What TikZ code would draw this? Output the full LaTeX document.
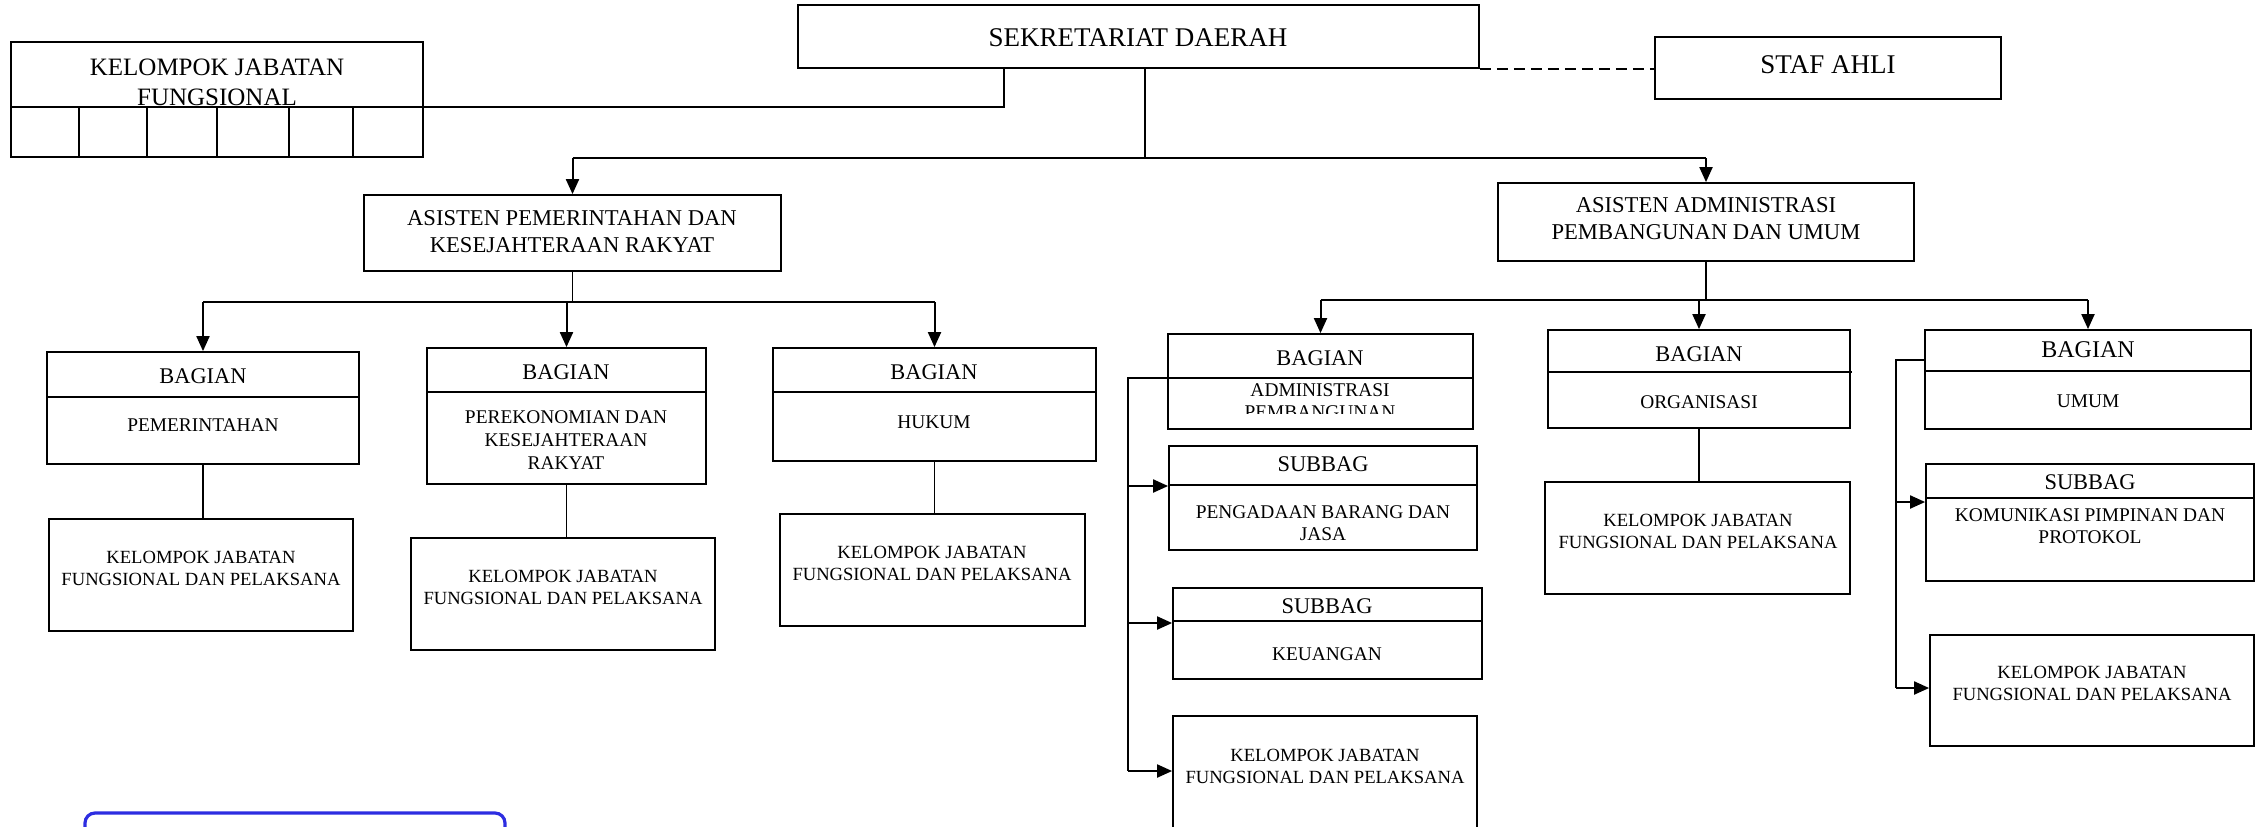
\documentclass[tikz,border=0pt]{standalone}
\usepackage{fontspec}
\setmainfont{Liberation Serif}
\usetikzlibrary{arrows.meta,fit}
\definecolor{stampblue}{RGB}{45,45,225}

% a framed box spanning two corner points (pixel grid, y downwards)
\newcommand\orgbox[5]{\node[box, fit={(#2,#3) (#4,#5)}] (#1) {};}
% horizontal divider across a box at height #2
\newcommand\divline[2]{\draw[box] (#1.west |- 0,#2) -- (#1.east |- 0,#2);}

\begin{document}
\begin{tikzpicture}[x=0.5pt,y=-0.5pt,
  box/.style={draw, line width=0.9pt, inner sep=0pt},
  lbl/.style={inner sep=0pt, align=center},
  fA/.style={font=\fontsize{13.5}{16}\selectfont},
  fB/.style={font=\fontsize{12.5}{15}\selectfont},
  fC/.style={font=\fontsize{11.3}{13.5}\selectfont},
  fD/.style={font=\fontsize{11.2}{13}\selectfont},
  fE/.style={font=\fontsize{9.7}{11.3}\selectfont},
  fF/.style={font=\fontsize{9.3}{11}\selectfont},
  bus/.style={line width=1pt},
  stem/.style={line width=0.7pt},
  arr/.style={line width=1pt, -{Triangle[length=7.5pt,width=6.5pt]}},
  dashline/.style={line width=1pt, dash pattern=on 5.5pt off 3pt}]

\useasboundingbox (0,0) rectangle (2264,826);
\clip (0,0) rectangle (2264,826);

% ---- top level ----
\orgbox{sek}{798}{5}{1479}{68}
\node[lbl,fA] (t-sek) at (1138,38) {SEKRETARIAT DAERAH};

\orgbox{staf}{1655}{37}{2001}{99}
\node[lbl,fA] (t-staf) at (1828,65) {STAF AHLI};

\orgbox{kjf}{11}{42}{423}{157}
\node[lbl,fB] (t-kjf) at (217,82) {KELOMPOK JABATAN\\FUNGSIONAL};
\divline{kjf}{107}
\foreach \x in {79,147,217,289,353} \draw[stem] (\x,107) -- (\x,0 |- kjf.south);

% ---- assistants ----
\orgbox{apem}{364}{195}{781}{271}
\node[lbl,fC] (t-apem) at (572,232) {ASISTEN PEMERINTAHAN DAN\\KESEJAHTERAAN RAKYAT};

\orgbox{aadm}{1498}{183}{1914}{261}
\node[lbl,fC] (t-aadm) at (1706,219) {ASISTEN ADMINISTRASI\\PEMBANGUNAN DAN UMUM};

% ---- sections under the first assistant ----
\orgbox{bpem}{47}{352}{359}{464}
\divline{bpem}{397}
\node[lbl,fD] (t-bpem1) at (203,376) {BAGIAN};
\node[lbl,fE] (t-bpem2) at (203,425) {PEMERINTAHAN};

\orgbox{kpem}{49}{519}{353}{631}
\node[lbl,fF] (t-kpem) at (201,568) {KELOMPOK JABATAN\\FUNGSIONAL DAN PELAKSANA};

\orgbox{bper}{427}{348}{706}{484}
\divline{bper}{392}
\node[lbl,fD] (t-bper1) at (566,372) {BAGIAN};
\node[lbl,fE] (t-bper2) at (566,440) {PEREKONOMIAN DAN\\KESEJAHTERAAN\\RAKYAT};

\orgbox{kper}{411}{538}{715}{650}
\node[lbl,fF] (t-kper) at (563,587) {KELOMPOK JABATAN\\FUNGSIONAL DAN PELAKSANA};

\orgbox{bhuk}{773}{348}{1096}{461}
\divline{bhuk}{392}
\node[lbl,fD] (t-bhuk1) at (934,372) {BAGIAN};
\node[lbl,fE] (t-bhuk2) at (934,422) {HUKUM};

\orgbox{khuk}{780}{514}{1085}{626}
\node[lbl,fF] (t-khuk) at (932,563) {KELOMPOK JABATAN\\FUNGSIONAL DAN PELAKSANA};

% ---- sections under the second assistant ----
\orgbox{badm}{1168}{334}{1473}{429}
\divline{badm}{378}
\node[lbl,fD] (t-badm1) at (1320,358) {BAGIAN};
\begin{scope}
  \clip (1168,380) rectangle (1473,413);
  \node[lbl,fE] (t-badm2) at (1320,401) {ADMINISTRASI\\PEMBANGUNAN};
\end{scope}

\orgbox{sb1}{1169}{446}{1477}{550}
\divline{sb1}{485}
\node[lbl,fD] (t-sb1a) at (1323,464) {SUBBAG};
\node[lbl,fE] (t-sb1b) at (1323,523) {PENGADAAN BARANG DAN\\JASA};

\orgbox{sb2}{1173}{588}{1482}{679}
\divline{sb2}{621}
\node[lbl,fD] (t-sb2a) at (1327,606) {SUBBAG};
\node[lbl,fE] (t-sb2b) at (1327,654) {KEUANGAN};

\orgbox{kadm}{1173}{716}{1477}{880}
\node[lbl,fF] (t-kadm) at (1325,766) {KELOMPOK JABATAN\\FUNGSIONAL DAN PELAKSANA};

\orgbox{borg}{1548}{330}{1850}{428}
\draw[line width=1.2pt] (borg.west |- 0,372) -- (1852,372);
\node[lbl,fD] (t-borg1) at (1699,354) {BAGIAN};
\node[lbl,fE] (t-borg2) at (1699,402) {ORGANISASI};

\orgbox{korg}{1545}{482}{1850}{594}
\node[lbl,fF] (t-korg) at (1698,531) {KELOMPOK JABATAN\\FUNGSIONAL DAN PELAKSANA};

\orgbox{bumu}{1925}{330}{2251}{429}
\divline{bumu}{371}
\node[lbl,font=\fontsize{12}{14}\selectfont] (t-bumu1) at (2088,350) {BAGIAN};
\node[lbl,fE] (t-bumu2) at (2088,401) {UMUM};

\orgbox{sb3}{1926}{464}{2254}{581}
\divline{sb3}{498}
\node[lbl,fD] (t-sb3a) at (2090,482) {SUBBAG};
\node[lbl,fE] (t-sb3b) at (2090,526) {KOMUNIKASI PIMPINAN DAN\\PROTOKOL};

\orgbox{kumu}{1930}{635}{2254}{746}
\node[lbl,fF] (t-kumu) at (2092,683) {KELOMPOK JABATAN\\FUNGSIONAL DAN PELAKSANA};

% ---- connectors ----
\coordinate (sekL) at (1004,68);
\coordinate (sekM) at (1145,68);
\coordinate (busA) at (1145,158);

\draw[bus] (kjf.east |- 0,107) -| (sekL);
\draw[dashline] (sek.south east) -- (staf.west |- sek.south east);

\draw[stem] (sekM) -- (busA);
\draw[bus] (apem.north |- busA) -- (aadm.north |- busA);
\draw[arr] (apem.north |- busA) -- (apem.north);
\draw[arr] (aadm.north |- busA) -- (aadm.north);

\coordinate (busB) at (572,302);
\draw[stem] (apem.south) -- (apem.south |- busB);
\draw[bus] (bpem.north |- busB) -- (bhuk.north |- busB);
\draw[arr] (bpem.north |- busB) -- (bpem.north);
\draw[arr] (bper.north |- busB) -- (bper.north);
\draw[arr] (bhuk.north |- busB) -- (bhuk.north);

\draw[stem] (bpem.south) -- (bpem.south |- kpem.north);
\draw[stem] (bper.south) -- (bper.south |- kper.north);
\draw[stem] (bhuk.south) -- (bhuk.south |- khuk.north);

\coordinate (busC) at (1706,300);
\draw[stem] (aadm.south) -- (aadm.south |- busC);
\draw[bus] (badm.north |- busC) -- (bumu.north |- busC);
\draw[arr] (badm.north |- busC) -- (badm.north);
\draw[arr] (borg.north |- busC) -- (borg.north);
\draw[arr] (bumu.north |- busC) -- (bumu.north);

\draw[stem] (borg.south) -- (borg.south |- korg.north);

% side trunk of the development administration section
\coordinate (trunkA) at (1128,771);
\draw[stem] (badm.west |- 0,378) -| (trunkA);
\draw[arr] (trunkA |- 0,486) -- (sb1.west |- 0,486);
\draw[arr] (trunkA |- 0,623) -- (sb2.west |- 0,623);
\draw[arr] (trunkA) -- (kadm.west |- trunkA);

% side trunk of the general affairs section
\coordinate (trunkB) at (1896,688);
\draw[stem] (bumu.west |- 0,360) -| (trunkB);
\draw[arr] (trunkB |- 0,502) -- (sb3.west |- 0,502);
\draw[arr] (trunkB) -- (kumu.west |- trunkB);

% stamp frame at the lower left
\draw[stampblue, line width=1.6pt, rounded corners=5pt] (85,860) |- (505,813) -- (505,860);

\end{tikzpicture}
\end{document}
